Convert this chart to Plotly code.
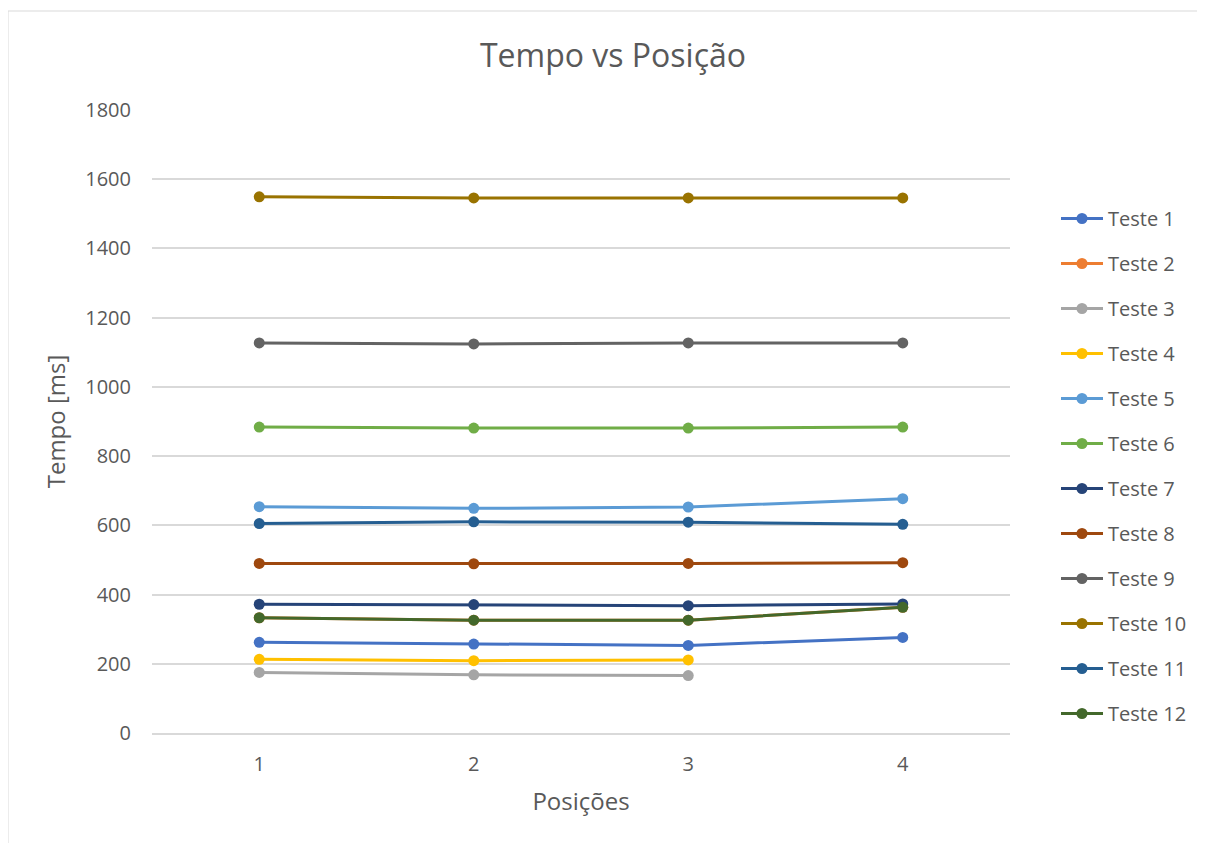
import plotly.graph_objects as go

positions = ["1", "2", "3", "4"]
series_names = [f"Teste {i}" for i in range(1, 13)]
teste1 = [262, 257, 253, 276]
teste2 = [333, 326, 326, 363]
teste3 = [175, 168, 166, None]
teste4 = [213, 209, 211, None]
teste5 = [654, 649, 653, 677]
teste6 = [884, 881, 881, 884]
teste7 = [372, 371, 368, 373]
teste8 = [490, 489, 490, 492]
teste9 = [1127, 1124, 1127, 1127]
teste10 = [1549, 1546, 1546, 1546]
teste11 = [605, 610, 609, 603]
teste12 = [333, 326, 326, 363]
series_values = [teste1, teste2, teste3, teste4, teste5, teste6,
                 teste7, teste8, teste9, teste10, teste11, teste12]
colors = ["#4472C4", "#ED7D31", "#A5A5A5", "#FFC000", "#5B9BD5", "#70AD47",
          "#264478", "#9E480E", "#636363", "#997300", "#255E91", "#43682B"]

fig = go.Figure()
for name, vals, col in zip(series_names, series_values, colors):
    fig.add_trace(go.Scatter(
        x=positions, y=vals, name=name, mode="lines+markers",
        line=dict(color=col, width=3), marker=dict(color=col, size=11),
        legendgroup=name, connectgaps=False,
    ))

OFF = 8  # page body margin
W, H = 1197, 835
# plot area in screen px: x 152..1010, y 110..733
L, T = 152 - OFF, 110 - OFF
R = W - (1010 - OFF)
B = H - (733 - OFF)
pw, ph = W - L - R, H - T - B

def px2x(p):
    return (p - OFF - L) / pw

def px2y(p):
    return (H - B - (p - OFF)) / ph

FONT = "Open Sans, Noto Sans, sans-serif"
fig.update_layout(
    width=W, height=H,
    margin=dict(l=L, r=R, t=T, b=B),
    paper_bgcolor="white", plot_bgcolor="white",
    font=dict(family=FONT, color="#595959", size=20),
    title=dict(text="Tempo vs Posição", x=(613 - OFF) / W, xref="container",
               y=1 - (56 - OFF) / H, yanchor="middle", xanchor="center",
               font=dict(size=32, color="#595959")),
    xaxis=dict(type="category", range=[-0.5, 3.5], showgrid=False,
               showline=True, linecolor="#D9D9D9", linewidth=1.5, ticks="",
               ticklabelstandoff=12,
               title=dict(text="Posições", font=dict(size=24), standoff=17),
               tickfont=dict(size=20)),
    yaxis=dict(range=[0, 1800], dtick=200, showgrid=True, gridcolor="#D9D9D9",
               gridwidth=2, zeroline=False, showline=False, ticks="",
               ticklabelstandoff=20,
               title=dict(text="Tempo [ms]", font=dict(size=24), standoff=12),
               tickfont=dict(size=20)),
    legend=dict(x=px2x(1056), y=px2y(199), xanchor="left", yanchor="top",
                font=dict(size=20), tracegroupgap=16, itemwidth=42),
    shapes=[dict(type="rect", xref="paper", yref="paper",
                 x0=px2x(8), x1=px2x(1215), y0=px2y(855), y1=px2y(11),
                 line=dict(color="#D9D9D9", width=1), layer="below")],
)

fig.write_html("out.html")
